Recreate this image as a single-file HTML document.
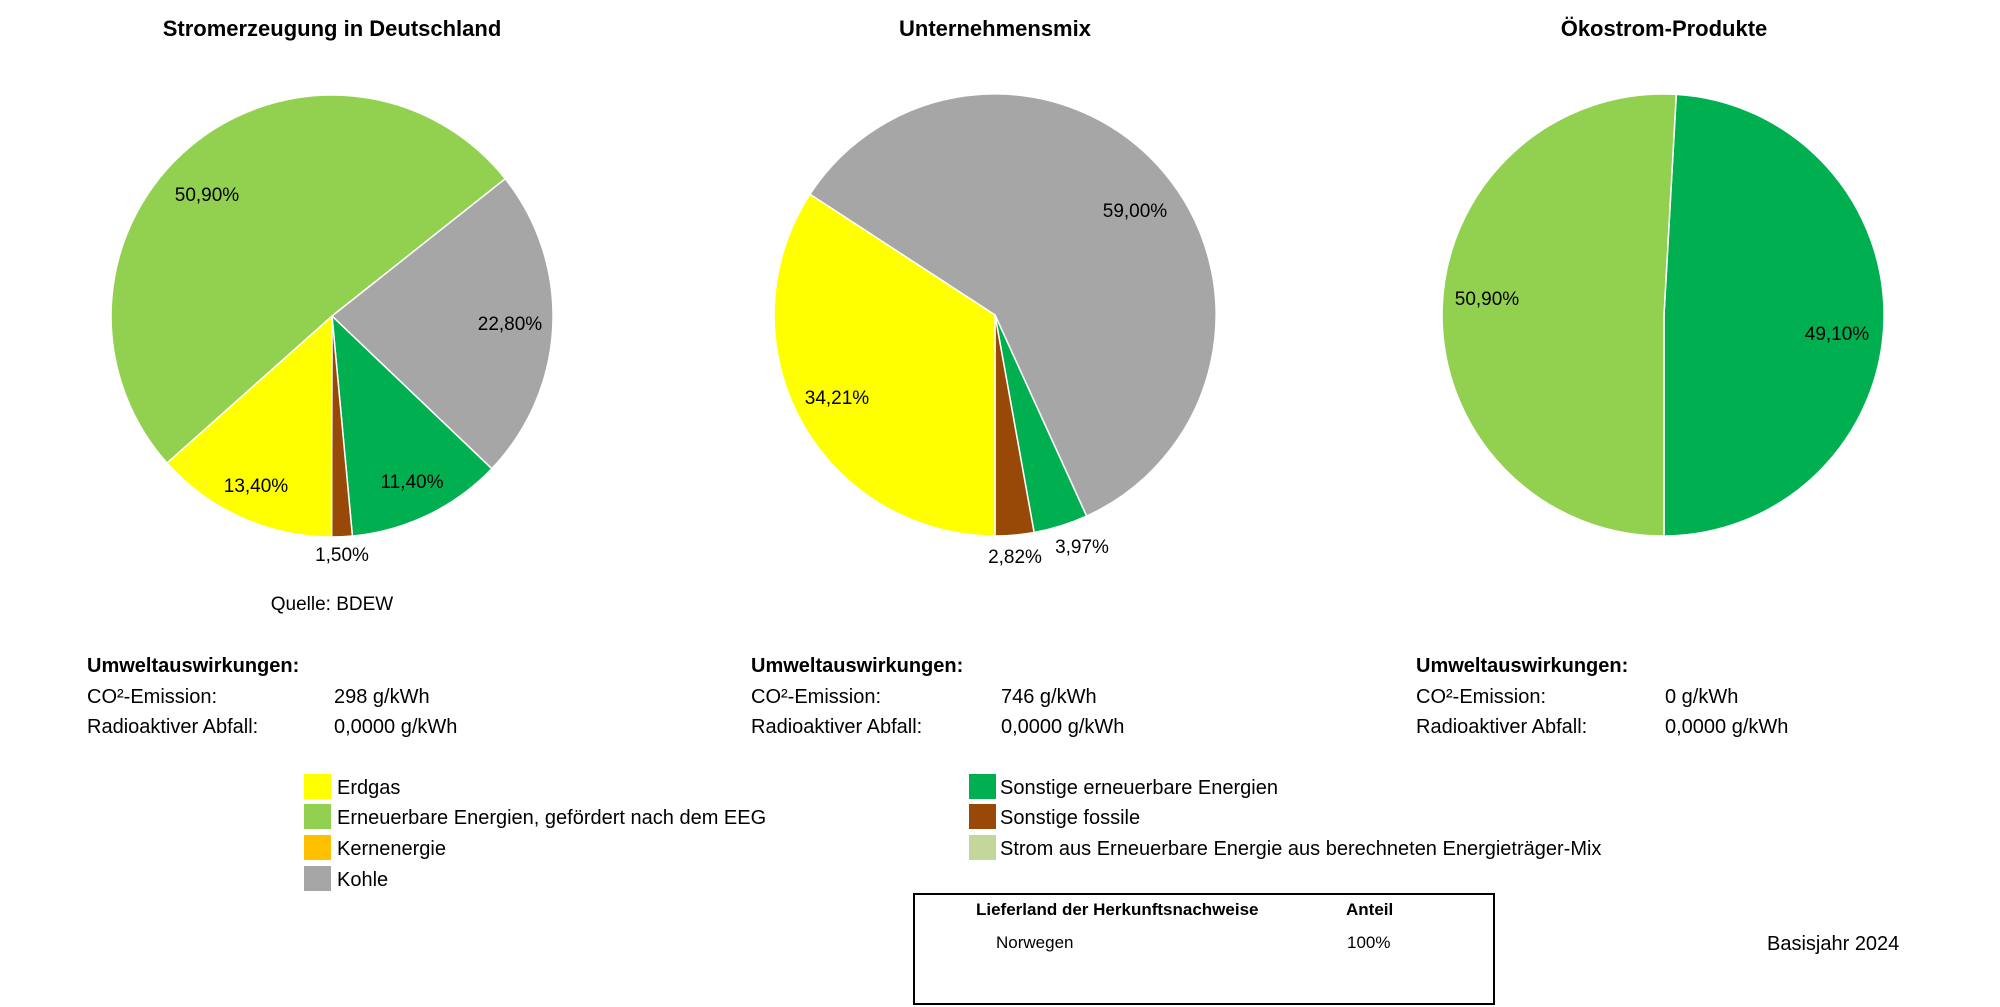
<!DOCTYPE html>
<html><head><meta charset="utf-8"><style>
html,body{margin:0;padding:0;background:#fff}
svg{display:block}
text{font-family:"Liberation Sans",Calibri,sans-serif;fill:#000}
</style></head><body>
<svg width="2000" height="1007" viewBox="0 0 2000 1007" xmlns="http://www.w3.org/2000/svg">
<rect x="0" y="0" width="2000" height="1007" fill="#fff"/>
<g font-weight="bold" font-size="22" text-anchor="middle">
<text x="332" y="36">Stromerzeugung in Deutschland</text>
<text x="995" y="36">Unternehmensmix</text>
<text x="1664" y="36">Ökostrom-Produkte</text>
</g>
<g stroke="#fff" stroke-width="1.5">
<path d="M332,316 L505.2,178.7 A221,221 0 0,1 491.8,468.7 Z" fill="#A6A6A6"/>
<path d="M332,316 L491.8,468.7 A221,221 0 0,1 352.4,536 Z" fill="#00B050"/>
<path d="M332,316 L352.4,536 A221,221 0 0,1 331.6,537 Z" fill="#984807"/>
<path d="M332,316 L331.6,537 A221,221 0 0,1 167,463 Z" fill="#FFFF00"/>
<path d="M332,316 L167,463 A221,221 0 1,1 505.2,178.7 Z" fill="#92D050"/>

<path d="M995,315 L809.9,194.3 A221,221 0 1,1 1086.6,516.1 Z" fill="#A6A6A6"/>
<path d="M995,315 L1086.6,516.1 A221,221 0 0,1 1034.1,532.5 Z" fill="#00B050"/>
<path d="M995,315 L1034.1,532.5 A221,221 0 0,1 995,536 Z" fill="#984807"/>
<path d="M995,315 L995,536 A221,221 0 0,1 809.9,194.3 Z" fill="#FFFF00"/>

<path d="M1664,315 L1676.3,94.4 A221,221 0 0,1 1664,536 Z" fill="#00B050"/>
<path d="M1664,315 L1664,536 A221,221 0 1,1 1676.3,94.4 Z" fill="#92D050"/>
</g>
<g font-size="19" text-anchor="middle">
<text x="207" y="201">50,90%</text>
<text x="510" y="330">22,80%</text>
<text x="412" y="488">11,40%</text>
<text x="256" y="492">13,40%</text>
<text x="342" y="561">1,50%</text>
<text x="332" y="610">Quelle: BDEW</text>
<text x="1135" y="217">59,00%</text>
<text x="837" y="404">34,21%</text>
<text x="1015" y="563">2,82%</text>
<text x="1082" y="553">3,97%</text>
<text x="1487" y="305">50,90%</text>
<text x="1837" y="340">49,10%</text>
</g>
<g font-size="20">
<text x="87" y="672" font-weight="bold">Umweltauswirkungen:</text>
<text x="87" y="703">CO²-Emission:</text>
<text x="334" y="703">298 g/kWh</text>
<text x="87" y="733">Radioaktiver Abfall:</text>
<text x="334" y="733">0,0000 g/kWh</text>
<text x="751" y="672" font-weight="bold">Umweltauswirkungen:</text>
<text x="751" y="703">CO²-Emission:</text>
<text x="1001" y="703">746 g/kWh</text>
<text x="751" y="733">Radioaktiver Abfall:</text>
<text x="1001" y="733">0,0000 g/kWh</text>
<text x="1416" y="672" font-weight="bold">Umweltauswirkungen:</text>
<text x="1416" y="703">CO²-Emission:</text>
<text x="1665" y="703">0 g/kWh</text>
<text x="1416" y="733">Radioaktiver Abfall:</text>
<text x="1665" y="733">0,0000 g/kWh</text>
</g>
<rect x="304" y="774" width="27" height="25" fill="#FFFF00"/>
<rect x="304" y="804" width="27" height="25" fill="#92D050"/>
<rect x="304" y="835" width="27" height="25" fill="#FFC000"/>
<rect x="304" y="866" width="27" height="25" fill="#A6A6A6"/>
<rect x="969" y="774" width="27" height="25" fill="#00B050"/>
<rect x="969" y="804" width="27" height="25" fill="#984807"/>
<rect x="969" y="835" width="27" height="25" fill="#C4D79B"/>
<g font-size="20">
<text x="337" y="794">Erdgas</text>
<text x="337" y="824">Erneuerbare Energien, gefördert nach dem EEG</text>
<text x="337" y="855">Kernenergie</text>
<text x="337" y="886">Kohle</text>
<text x="1000" y="794">Sonstige erneuerbare Energien</text>
<text x="1000" y="824">Sonstige fossile</text>
<text x="1000" y="855">Strom aus Erneuerbare Energie aus berechneten Energieträger-Mix</text>
<text x="1767" y="950">Basisjahr 2024</text>
</g>
<rect x="914" y="894" width="580" height="110" fill="none" stroke="#000" stroke-width="2"/>
<g font-size="17">
<text x="976" y="915" font-weight="bold">Lieferland der Herkunftsnachweise</text>
<text x="1346" y="915" font-weight="bold">Anteil</text>
<text x="996" y="948">Norwegen</text>
<text x="1347" y="948">100%</text>
</g>
</svg>
</body></html>
